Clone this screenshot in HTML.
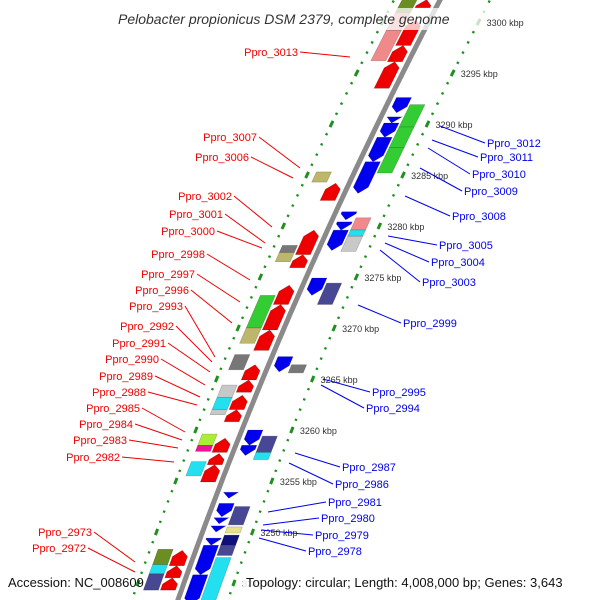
<!DOCTYPE html>
<html><head><meta charset="utf-8"><style>
html,body{margin:0;padding:0;background:#fff;width:600px;height:600px;overflow:hidden}
svg{display:block;font-family:"Liberation Sans",sans-serif;overflow:hidden}
</style></head><body>
<svg id="map" width="600" height="600" viewBox="0 0 600 600" xmlns="http://www.w3.org/2000/svg">
<g id="dots"></g>
<path id="backbone" fill="none" stroke="#8a8a8a" stroke-width="5"/>
<g id="feats"></g>
<g id="ticklabels" font-size="9" fill="#333"></g>
<g id="labels" font-size="11"></g>
<rect x="114" y="8" width="372" height="22" fill="#fff" opacity="0.75"/>
<text x="118" y="24" font-size="14" font-style="italic" fill="#333">Pelobacter propionicus DSM 2379, complete genome</text>
<text x="8" y="587" font-size="13" fill="#111">Accession: NC_008609</text>
<rect x="243" y="573" width="352" height="19" fill="#fff" opacity="0.85"/>
<text x="246" y="587" font-size="13" fill="#111">Topology: circular; Length: 4,008,000 bp; Genes: 3,643</text>
</svg>
<script>
// feature data (kbp)
const featStart = [3301.4,3297.7,3296.1,3293.5,3282.5,3277.2,3275.9,3272.3,3269.8,3267.8,3264.9,3263.7,3262.0,3260.8,3257.8,3256.6,3254.9,3246.7,3245.5,3244.3,
 3291.1,3290.1,3288.7,3286.3,3283.2,3280.6,3279.6,3277.6,3273.2,3265.7,3258.5,3257.5,3253.3,3251.5,3250.8,3250.0,3248.7,3245.8,3242.9,
 3300.9,3299.2,3296.2,3284.3,3277.4,3276.5,3270.0,3268.5,3265.9,3263.2,3262.0,3261.5,3258.5,3257.9,3255.5,3246.8,3245.9,3244.3,
 3289.7,3287.7,3285.2,3279.6,3279.0,3277.5,3272.3,3265.6,3257.8,3257.1,3250.7,3249.9,3248.7,3247.7,3243.3];
const featEnd = [3302.2,3300.2,3297.7,3296.1,3284.2,3279.6,3277.2,3274.2,3272.3,3269.8,3266.4,3264.9,3263.4,3262.0,3259.2,3257.7,3256.6,3248.2,3246.7,3245.5,
 3292.6,3290.7,3290.1,3288.7,3286.3,3281.4,3280.4,3279.6,3274.9,3267.2,3260.0,3258.5,3253.9,3252.8,3251.4,3250.6,3249.4,3248.7,3245.8,
 3302.2,3300.9,3299.2,3285.3,3278.1,3277.4,3273.2,3270.0,3267.4,3264.4,3263.2,3262.0,3259.6,3258.5,3256.9,3248.3,3246.8,3245.9,
 3291.9,3289.7,3287.7,3280.8,3279.6,3279.0,3274.4,3266.4,3259.4,3257.8,3252.5,3250.5,3249.7,3248.7,3247.5];
const featStrand = [1,1,1,1,1,1,1,1,1,1,1,1,1,1,1,1,1,1,1,1,
 -1,-1,-1,-1,-1,-1,-1,-1,-1,-1,-1,-1,-1,-1,-1,-1,-1,-1,-1,
 1,1,1,1,1,1,1,1,1,1,1,1,1,1,1,1,1,1,
 -1,-1,-1,-1,-1,-1,-1,-1,-1,-1,-1,-1,-1,-1,-1];
const featRing = [0,0,0,0,0,0,0,0,0,0,0,0,0,0,0,0,0,0,0,0,
 0,0,0,0,0,0,0,0,0,0,0,0,0,0,0,0,0,0,0,
 1,1,1,1,1,1,1,1,1,1,1,1,1,1,1,1,1,1,
 1,1,1,1,1,1,1,1,1,1,1,1,1,1,1];
const featCog = ["fwd","fwd","fwd","fwd","fwd","fwd","fwd","fwd","fwd","fwd","fwd","fwd","fwd","fwd","fwd","fwd","fwd","fwd","fwd","fwd",
 "rev","rev","rev","rev","rev","rev","rev","rev","rev","rev","rev","rev","rev","rev","rev","rev","rev","rev","rev",
 "G","L","L","R","S","R","M","R","S","X","C","X","T","H","C","G","C","E",
 "M","M","M","L","C","X","E","S","E","C","E","Q","P","E","C"];
const tickKb = [3300,3295,3290,3285,3280,3275,3270,3265,3260,3255,3250,3245];
const tickText = ["3300 kbp","3295 kbp","3290 kbp","3285 kbp","3280 kbp","3275 kbp","3270 kbp","3265 kbp","3260 kbp","3255 kbp","3250 kbp","3245 kbp"];

const cogColor = {fwd:"#ee0000",rev:"#0000ee",G:"#6b8e23",L:"#f08a8a",R:"#bdb76b",S:"#777",M:"#33cc33",X:"#c8c8c8",C:"#22e0f0",T:"#aaee33",H:"#ee1199",E:"#474794",Q:"#e8e08a",P:"#10107a"};
const NS="http://www.w3.org/2000/svg";
function yOf(kb){return 22+(3300-kb)*10.2;}
function xOf(y){return 440-0.5214*y+0.000141*y*y;}
function pt(kb,d){ // horizontal offset; d>0 : left side
  const y=yOf(kb);
  return [xOf(y)-d, y];
}
function mk(tag,attrs,parent){const e=document.createElementNS(NS,tag);for(const k in attrs)e.setAttribute(k,attrs[k]);parent.appendChild(e);return e;}
let d="";for(let y=-10;y<=610;y+=5){d+=(y===-10?"M":"L")+xOf(y).toFixed(1)+","+y;}
document.getElementById('backbone').setAttribute('d',d);
const dots=document.getElementById('dots');
for(const side of [46,-50]){
  for(let kb=3240;kb<=3304;kb+=1){
    const major=tickKb.includes(kb);
    const a=pt(kb+(major?0.3:0.1),side), b=pt(kb-(major?0.3:0.1),side);
    const ln=mk('line',{x1:a[0],y1:a[1],x2:b[0],y2:b[1],stroke:"#1f8f1f","stroke-width":major?3:2.4},dots);
    
    
  }
}
const tl=document.getElementById('ticklabels');
tickKb.forEach((kb,i)=>{const p=pt(kb,-58);const t=mk('text',{x:p[0],y:p[1]+4},tl);t.textContent=tickText[i];
 
 });
const fg=document.getElementById('feats');
for(let i=0;i<featStart.length;i++){
  const s=featStrand[i], r=featRing[i];
  const d0=(r===0?6:23)*s, d1=(r===0?21:38)*s;
  const lo=featStart[i], hi=featEnd[i];
  let pts;
  if(r===0){
    const head=Math.min(0.6,(hi-lo));
    if(s>0){
      const b=hi-head;
      pts=[pt(lo,d0),pt(b,d0),pt(hi,(d0+d1)/2),pt(b,d1),pt(lo,d1)];
    } else {
      const b=lo+head;
      pts=[pt(hi,d0),pt(b,d0),pt(lo,(d0+d1)/2),pt(b,d1),pt(hi,d1)];
    }
  } else {
    pts=[pt(lo,d0),pt(hi,d0),pt(hi,d1),pt(lo,d1)];
  }
  const el=mk('polygon',{points:pts.map(p=>p[0].toFixed(1)+","+p[1].toFixed(1)).join(" "),fill:cogColor[featCog[i]],stroke:"rgba(0,0,0,0.25)","stroke-width":0.6},fg);
  
  
}
const red=[["Ppro_3013",298,56,350,57],["Ppro_3007",257,141,300,168],["Ppro_3006",249,161,293,178],["Ppro_3002",232,200,272,227],["Ppro_3001",223,218,265,243],["Ppro_3000",215,235,262,248],["Ppro_2998",205,258,250,280],["Ppro_2997",195,278,240,302],["Ppro_2996",189,294,232,323],["Ppro_2993",183,310,215,357],["Ppro_2992",174,330,212,362],["Ppro_2991",166,347,210,372],["Ppro_2990",159,363,205,385],["Ppro_2989",153,380,200,397],["Ppro_2988",146,396,197,405],["Ppro_2985",140,412,185,432],["Ppro_2984",133,428,182,440],["Ppro_2983",127,444,178,448],["Ppro_2982",120,461,174,462],["Ppro_2973",92,536,135,562],["Ppro_2972",86,552,135,572]];
const blue=[["Ppro_3012",487,147,440,126],["Ppro_3011",480,161,432,140],["Ppro_3010",472,178,428,148],["Ppro_3009",464,195,420,168],["Ppro_3008",452,220,405,196],["Ppro_3005",439,249,388,236],["Ppro_3004",431,266,385,243],["Ppro_3003",422,286,380,250],["Ppro_2999",403,327,358,305],["Ppro_2995",372,396,323,379],["Ppro_2994",366,412,321,385],["Ppro_2987",342,471,295,453],["Ppro_2986",335,488,289,463],["Ppro_2981",328,506,268,512],["Ppro_2980",321,522,263,525],["Ppro_2979",315,539,261,530],["Ppro_2978",308,555,259,538]];
const lg=document.getElementById('labels');
red.forEach(a=>{
  const l=mk('line',{x1:a[1]+2,y1:a[2]-4,x2:a[3],y2:a[4],stroke:"#ee0000","stroke-width":1},lg);
  
  
  const t=mk('text',{x:a[1],y:a[2],"text-anchor":"end",fill:"#ee0000"},lg);t.textContent=a[0];
  
  
});
blue.forEach(a=>{
  const l=mk('line',{x1:a[1]-2,y1:a[2]-4,x2:a[3],y2:a[4],stroke:"#0000ee","stroke-width":1},lg);
  
  
  const t=mk('text',{x:a[1],y:a[2],fill:"#0000ee"},lg);t.textContent=a[0];
  
  
});
</script>
</body></html>
